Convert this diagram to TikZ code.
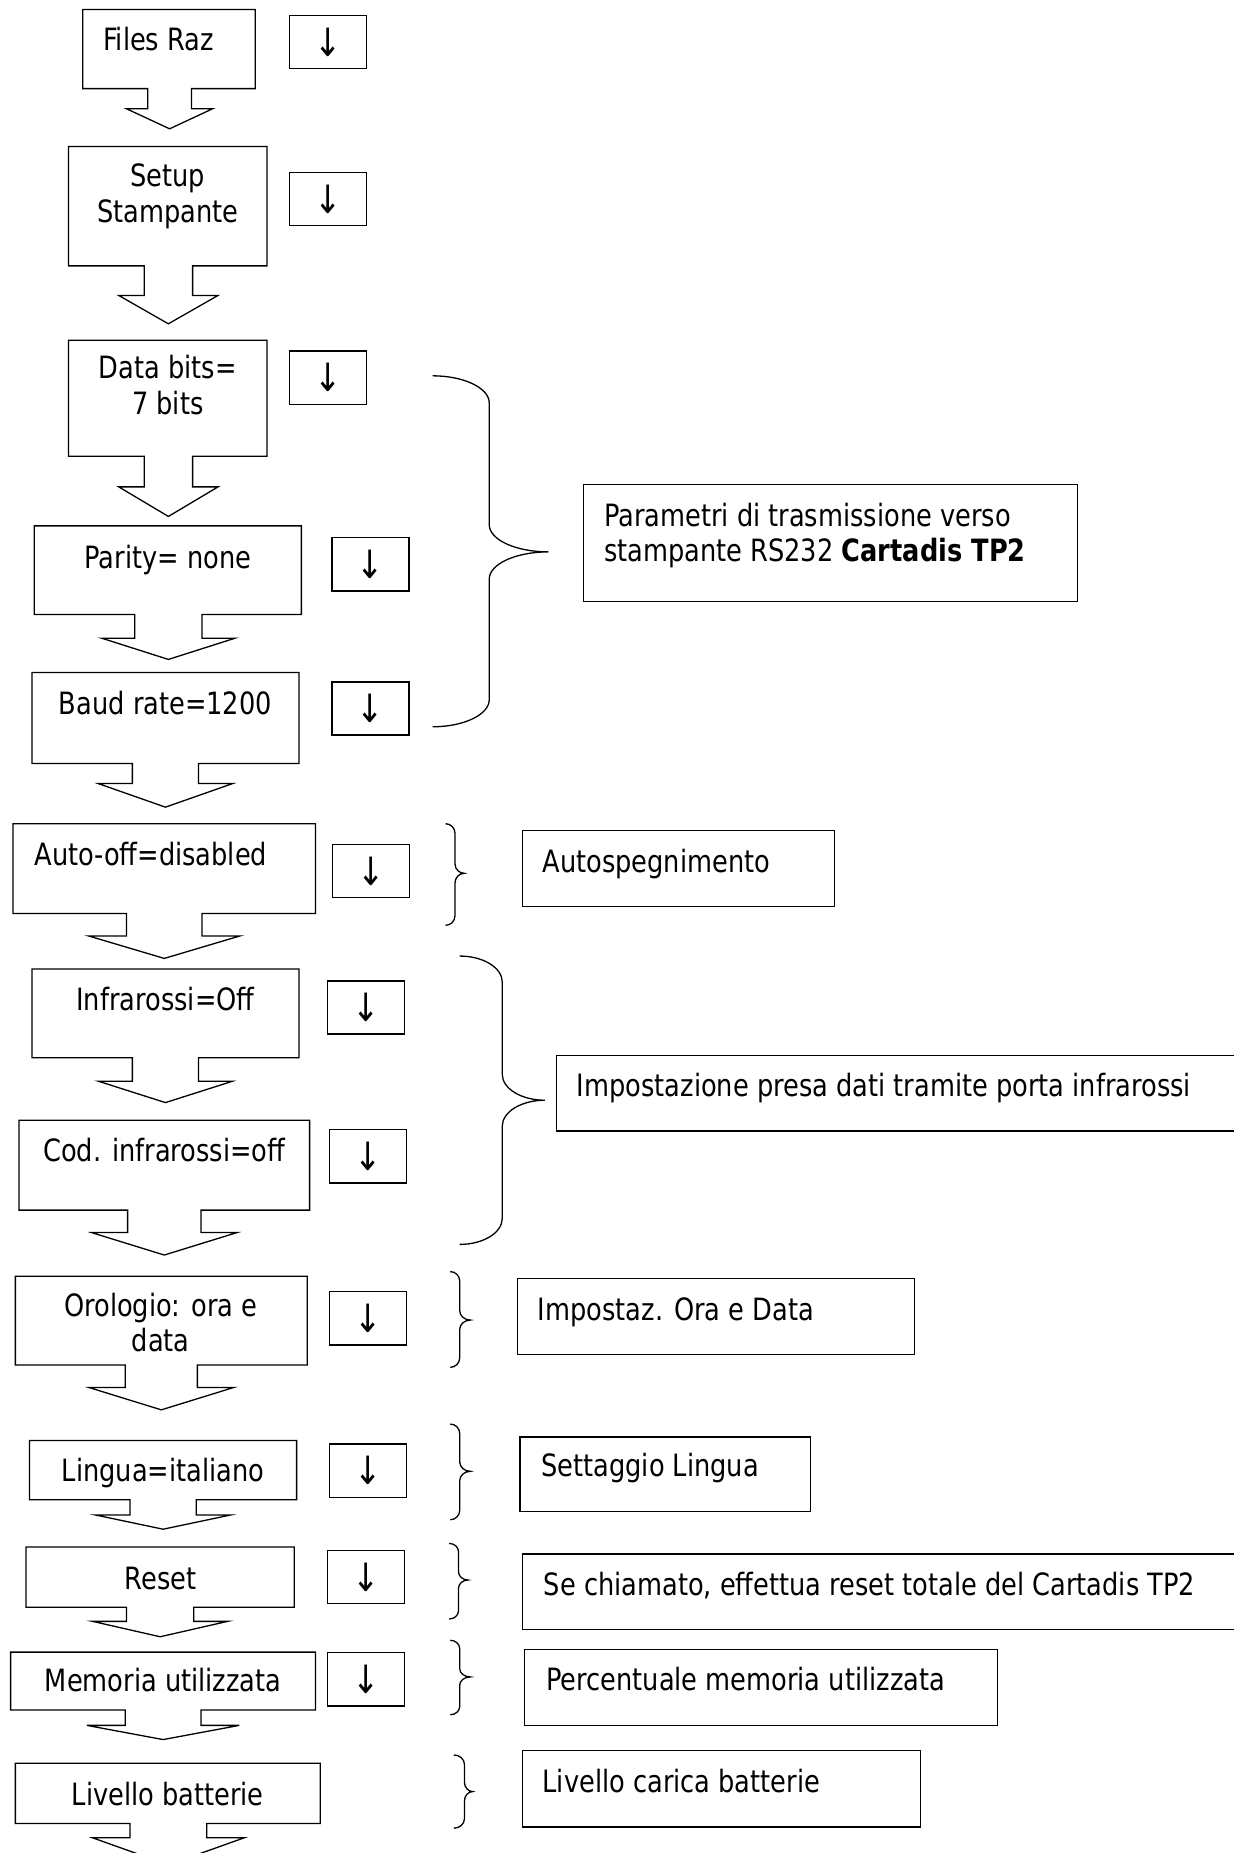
\documentclass[tikz,border=0pt]{standalone}
\usepackage{fontspec}
\setmainfont{DejaVu Sans}[FakeStretch=0.835]
\newcommand{\msize}{\fontsize{26}{30}\selectfont}
\newcommand{\asize}{\fontsize{33}{36}\selectfont}
\tikzset{
  box/.style={draw=black, line width=1.1pt, line join=miter},
  lbl/.style={inner sep=0pt, anchor=north, align=center, font=\msize, execute at begin node=\strut},
  lbll/.style={lbl, anchor=north west, align=left},
  smallbox/.style={draw=black, line width=1.1pt, minimum width=65pt, minimum height=45pt, inner sep=0pt, font=\asize},
  bracestyle/.style={draw=black, line width=1.1pt},
}
% x1,y1,x2,y2, stemL, stemR, shoulder, wing half width, tip y
\newcommand{\callout}[9]{%
  \draw[box] (#5,#4) -- (#1,#4) -- (#1,#2) -- (#3,#2) -- (#3,#4) -- (#6,#4) -- (#6,#7)
    -- ({(#5+#6)/2+#8},#7) -- ({(#5+#6)/2},#9) -- ({(#5+#6)/2-#8},#7) -- (#5,#7) -- cycle;}
% x0, ytop, xv, xtip, ytip, ybot, r
\newcommand{\brc}[7]{%
  \draw[bracestyle] (#1,#2) .. controls ({#1+0.552*(#3-#1)},#2) and (#3,{#2+0.448*#7}) .. (#3,{#2+#7})
    -- (#3,{#5-#7}) .. controls (#3,{#5-0.448*#7}) and ({#3+0.448*(#4-#3)},#5) .. (#4,#5)
    .. controls ({#3+0.448*(#4-#3)},#5) and (#3,{#5+0.448*#7}) .. (#3,{#5+#7})
    -- (#3,{#6-#7}) .. controls (#3,{#6-0.448*#7}) and ({#1+0.552*(#3-#1)},#6) .. (#1,#6);}
\begin{document}
\begin{tikzpicture}[x=1pt,y=-1pt]
\fill[white] (0,0) rectangle (1044,1568);
\useasboundingbox (0,0) rectangle (1044,1568);
\clip (0,0) rectangle (1044,1568);

% ---- left column: callout boxes with block arrows
\callout{70}{8}{216}{75}{125}{162}{92}{36.5}{109}
\callout{58}{124}{226}{225}{122}{163}{250}{42}{274}
\callout{58}{288}{226}{386}{122}{163}{412}{42}{437}
\callout{29}{445}{255}{520}{114}{171}{540}{56.5}{558}
\callout{27}{569}{253}{646}{112}{168}{663}{57}{683}
\callout{11}{697}{267}{773}{107}{171}{792}{64}{811}
\callout{27}{820}{253}{895}{112}{168}{915}{56.5}{933}
\callout{16}{948}{262}{1024}{108}{170}{1043}{61.5}{1062}
\callout{13}{1080}{260}{1155}{106}{167}{1174}{61.5}{1193}
\callout{25}{1219}{251}{1269}{110}{166}{1282}{57}{1294}
\callout{22}{1309}{249}{1360}{107}{164}{1372}{57}{1385}
\callout{9}{1398}{267}{1447}{106}{170}{1460}{64.5}{1472}
\callout{13}{1492}{271}{1543}{110}{175}{1555}{64.5}{1578}

\node[lbll] (tfiles) at (87,21.5) {Files Raz};
\node[lbl] (tsetup) at (142,138.5) {Setup\\Stampante};
\node[lbl] (tdata) at (142,300.5) {Data bits=\\7 bits};
\node[lbl] (tparity) at (142,459.5) {Parity= none};
\node[lbl] (tbaud) at (140,583.5) {Baud rate=1200};
\node[lbll] (tauto) at (29,711.5) {Auto-off=disabled};
\node[lbl] (tinfra) at (140,833.5) {Infrarossi=Off};
\node[lbl] (tcod) at (139,961.5) {Cod. infrarossi=off};
\node[lbl] (torol) at (136,1094) {Orologio: ora e\\data};
\node[lbl] (tling) at (138,1232.5) {Lingua=italiano};
\node[lbl] (treset) at (136,1323.5) {Reset};
\node[lbl] (tmem) at (138,1410.5) {Memoria utilizzata};
\node[lbl] (tbatt) at (142,1506.5) {Livello batterie};

% ---- small arrow boxes
\node[smallbox] (d1) at (277.5,35.5) {↓};
\node[smallbox] (d2) at (277.5,168.5) {↓};
\node[smallbox] (d3) at (277.5,319.5) {↓};
\node[smallbox] (d4) at (313.5,477.5) {↓};
\node[smallbox] (d5) at (313.5,599.5) {↓};
\node[smallbox] (d6) at (314,737) {↓};
\node[smallbox] (d7) at (309.5,852.5) {↓};
\node[smallbox] (d8) at (311.5,978.5) {↓};
\node[smallbox] (d9) at (311.5,1115.5) {↓};
\node[smallbox] (d10) at (311.5,1244.5) {↓};
\node[smallbox] (d11) at (309.5,1334.5) {↓};
\node[smallbox] (d12) at (309.5,1421) {↓};

% ---- braces
\brc{366}{318}{414}{464}{467}{615}{23}
\brc{377}{697}{385}{393}{739}{783}{8}
\brc{389}{809}{425}{461}{931}{1053}{22}
\brc{381}{1076}{389}{398}{1117}{1157}{8}
\brc{381}{1205}{389}{398}{1245}{1286}{8}
\brc{380}{1306}{388}{396}{1337}{1370}{7}
\brc{381}{1388}{389}{398}{1419}{1451}{7}
\brc{384}{1485}{393}{400}{1516}{1547}{8}

% ---- right description boxes
\draw[box] (494,410) rectangle (912,509);
\draw[box] (442,703) rectangle (706,767);
\draw[box] (471,893) rectangle (1060,957);
\draw[box] (438,1082) rectangle (774,1146);
\draw[box] (440,1216) rectangle (686,1279);
\draw[box] (442,1315) rectangle (1060,1379);
\draw[box] (444,1396) rectangle (844,1460);
\draw[box] (442,1481) rectangle (779,1546);

\node[lbll] (n1) at (511,425.5) {Parametri di trasmissione verso\\stampante RS232 \textbf{Cartadis TP2}};
\node[lbll] (n2) at (459,717.5) {Autospegnimento};
\node[lbll] (n3) at (488,906.5) {Impostazione presa dati tramite porta infrarossi};
\node[lbll] (n4) at (455,1096.5) {Impostaz. Ora e Data};
\node[lbll] (n5) at (458,1228.5) {Settaggio Lingua};
\node[lbll] (n6) at (460,1328.5) {Se chiamato, effettua reset totale del Cartadis TP2};
\node[lbll] (n7) at (462,1409.5) {Percentuale memoria utilizzata};
\node[lbll] (n8) at (459,1495.5) {Livello carica batterie};
\end{tikzpicture}
\end{document}
